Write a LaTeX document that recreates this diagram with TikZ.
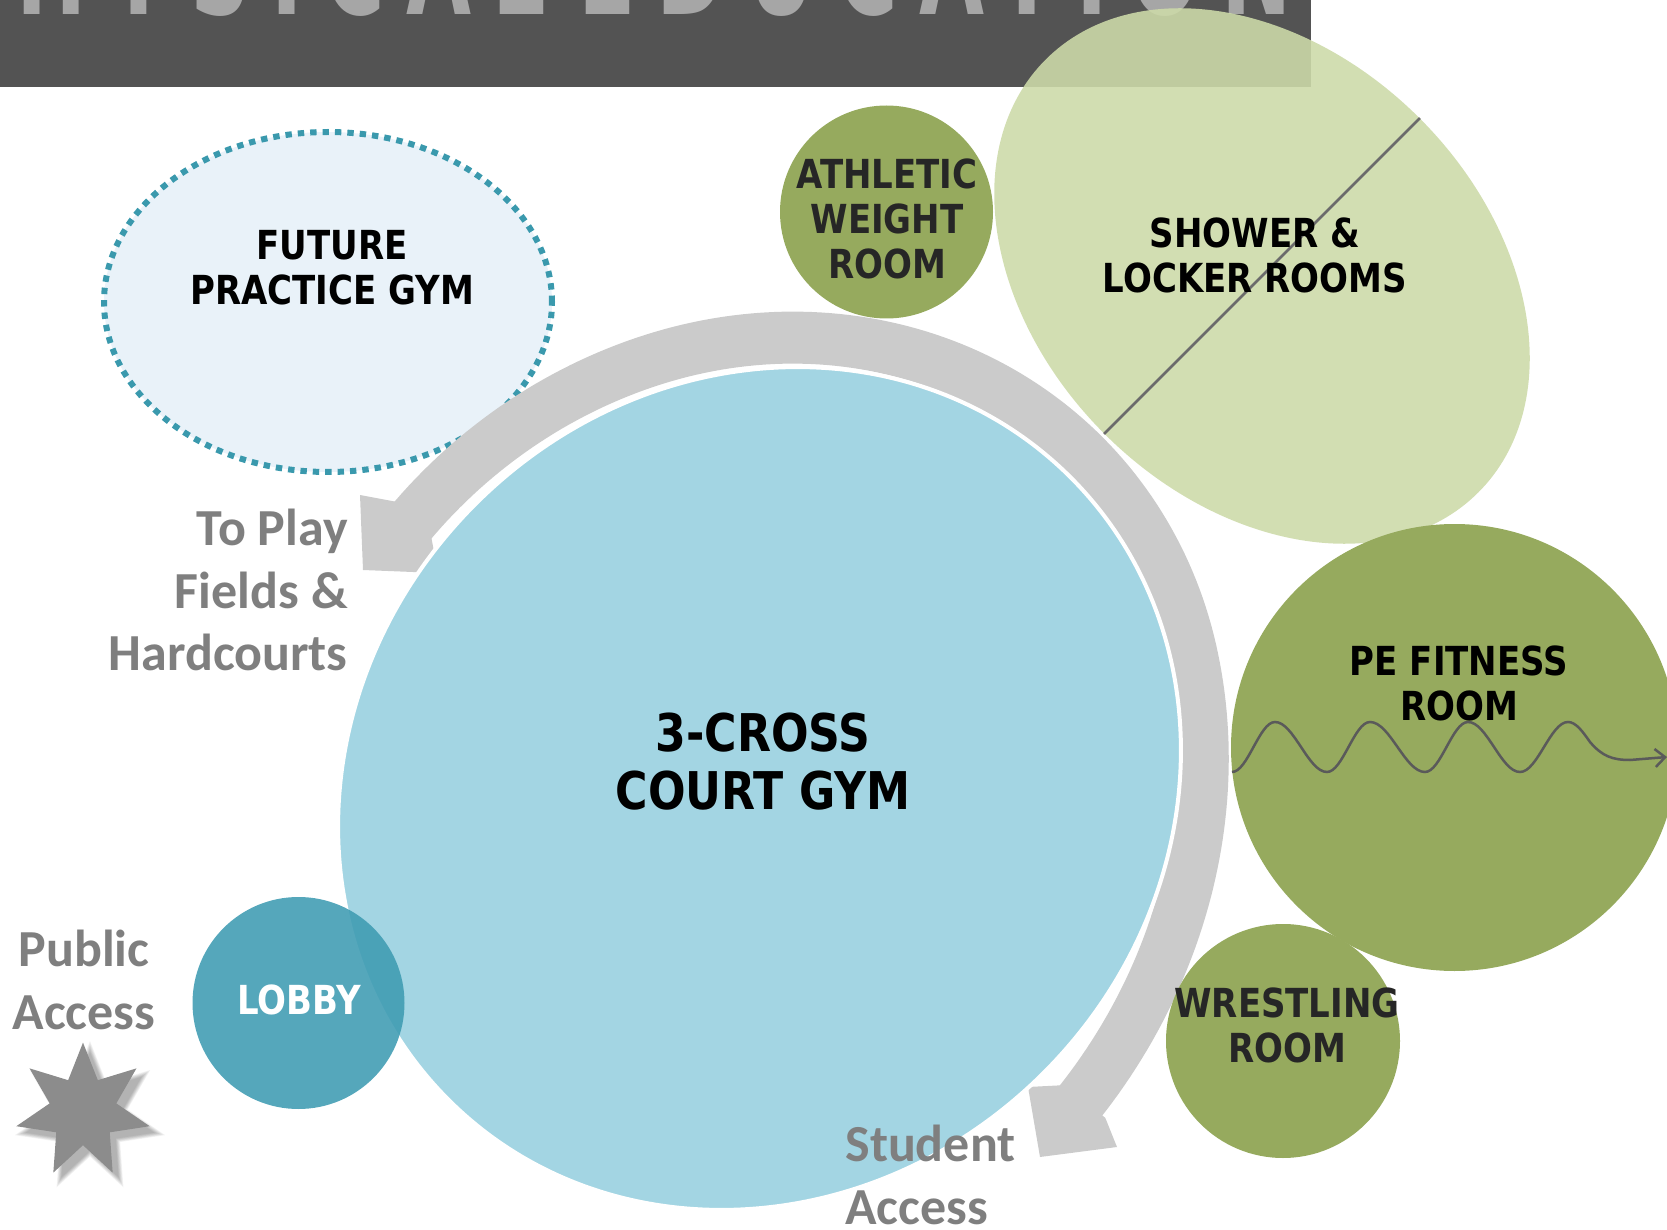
\documentclass[tikz,border=0pt]{standalone}
\usepackage{fontspec}
\usetikzlibrary{shapes.geometric,arrows.meta}
\newfontfamily\tahfont[FakeStretch=0.85]{DejaVu Sans}
\newfontfamily\calfont{Carlito}
\newfontfamily\banfont[FakeStretch=0.6,LetterSpace=15]{DejaVu Sans}
\definecolor{bannergray}{HTML}{535353}
\definecolor{bannertext}{HTML}{A6A6A6}
\definecolor{gymblue}{HTML}{A3D5E3}
\definecolor{bandgray}{HTML}{CBCBCB}
\definecolor{futfill}{HTML}{E9F2F9}
\definecolor{futdot}{HTML}{3A99AD}
\definecolor{olive}{HTML}{96AA5E}
\definecolor{showergreen}{HTML}{CDDAA9}
\definecolor{lobbyteal}{HTML}{3E9BB2}
\definecolor{stargray}{HTML}{8C8C8C}
\definecolor{textgray}{HTML}{7F7F7F}
\definecolor{waveline}{HTML}{5A5A5A}
\definecolor{diagline}{HTML}{6B6B6B}
\definecolor{darktext}{HTML}{262626}
\tikzset{
  lbl/.style={font=\tahfont\bfseries\fontsize{20}{22.5}\selectfont, align=center, inner sep=0},
  biglbl/.style={font=\tahfont\bfseries\fontsize{26}{29}\selectfont, align=center, inner sep=0},
  graylbl/.style={font=\calfont\bfseries\fontsize{26}{31.25}\selectfont, text=textgray, inner sep=0},
  room/.style={circle, inner sep=0, fill=olive},
  starshape/.style={star, star points=7, star point ratio=2.0, inner sep=0},
}
\begin{document}
\begin{tikzpicture}[x=0.5pt,y=0.5pt,
  declare function={
    dl(\t)=25+5*max(0,(\t-60)/38.8)*max(0,(\t-60)/38.8)+29*max(0,(-\t-30)/60.9)*max(0,(-\t-30)/60.9);
    bx(\t)=755+0.7071*((440+dl(\t))*cos(\t)-(402+dl(\t))*sin(\t));
    by(\t)=-784+0.7071*((440+dl(\t))*cos(\t)+(402+dl(\t))*sin(\t));
  }]
\useasboundingbox (0,0) rectangle (1667,-1230);
\clip (0,0) rectangle (1667,-1230);
% banner
\fill[bannergray] (0,0) rectangle (1311,-87.5);
\begin{scope}
  \clip (0,0) rectangle (1311,-87.5);
  \node[anchor=base west, inner sep=0, text=bannertext, font=\banfont\bfseries\fontsize{70}{70}\selectfont] (bannertitle) at (-66,-15) {PHYSICAL\kern-9pt{} EDUCATION};
\end{scope}
% shower & locker rooms
\node[ellipse, rotate=-45, minimum width=306pt, minimum height=223pt, inner sep=0, fill=showergreen, fill opacity=0.89] (shower) at (1262,-276) {};
\draw[diagline, line width=1.25pt] (shower.north) -- (shower.south);
% future practice gym
\node[ellipse, minimum width=224pt, minimum height=170pt, inner sep=0, fill=futfill, draw=futdot, line width=3pt, dash pattern=on 3.2pt off 3pt] (future) at (328,-302) {};
% athletic weight room
\node[room, minimum size=106.5pt] (athletic) at (886.5,-212) {};
% circulation band
\draw[bandgray, line width=26pt, line join=round] plot[domain=98.8:-90.9, samples=160, variable=\t] ({bx(\t)},{by(\t)});
\fill[bandgray] (363,-570) -- (360,-495) -- (394.7,-501.5) -- (431.5,-538.3) -- (438,-573) -- cycle;
\fill[bandgray] (1040,-1157) -- (1028,-1087) -- (1064.9,-1085.1) -- (1105.3,-1117.9) -- (1117,-1147) -- cycle;
% main gym
\node[ellipse, rotate=45, minimum width=440pt, minimum height=402pt, inner sep=0, fill=gymblue, draw=white, line width=2pt] (gym) at (759.5,-788.5) {};
% PE fitness
\node[room, minimum size=223.5pt] (pe) at (1454.5,-747.5) {};
\coordinate (wavestart) at (1232,-772);
\coordinate (waveend) at (1667,-757);
\draw[waveline, line width=1.25pt, -{Straight Barb[length=5pt,width=9pt]}]
  (wavestart) cos (1253.5,-747) sin (1275,-722) cos (1301,-747) sin (1327,-772)
  cos (1348.5,-747) sin (1370,-722) cos (1397.5,-747) sin (1425,-772)
  cos (1446.5,-747) sin (1468,-722) cos (1494,-747) sin (1520,-772)
  cos (1544,-747) sin (1568,-722) cos (1590,-742)
  .. controls (1602,-756) and (1612,-760) .. (1630,-760) -- (waveend);
% wrestling
\node[room, minimum size=117pt] (wrestling) at (1283,-1041) {};
% lobby
\node[circle, minimum size=106pt, inner sep=0, fill=lobbyteal, fill opacity=0.88] (lobby) at (298.5,-1003) {};
% star with soft shadow
\foreach \i in {0,...,7} {
  \node[starshape, minimum size={66pt+\i*1.6pt}, fill=black, fill opacity=0.045] (starshadow\i) at (90,-1118) {};
}
\node[starshape, minimum size=68.4pt, fill=stargray] (publicstar) at (83,-1111) {};
% labels
\node[lbl] (futtext) at (332,-268) {FUTURE\\PRACTICE GYM};
\node[lbl, text=darktext] (athtext) at (887,-218.5) {ATHLETIC\\WEIGHT\\ROOM};
\node[lbl] (showtext) at (1255,-255.5) {SHOWER \&\\LOCKER ROOMS};
\node[lbl] (petext) at (1459,-683) {PE FITNESS\\ROOM};
\node[lbl, text=darktext] (wrtext) at (1287,-1025) {WRESTLING\\ROOM};
\node[lbl, text=white] (lobbytext) at (299,-999.5) {LOBBY};
\node[biglbl] (gymtext) at (763,-762) {3-CROSS\\COURT GYM};
\node[graylbl, align=right, anchor=east] (toplay) at (348,-590) {To Play\\Fields \&\\Hardcourts};
\node[graylbl, align=center] (public) at (84,-980) {Public\\Access};
\node[graylbl, align=left, anchor=west] (student) at (845,-1175) {Student\\Access};
\end{tikzpicture}
\end{document}
